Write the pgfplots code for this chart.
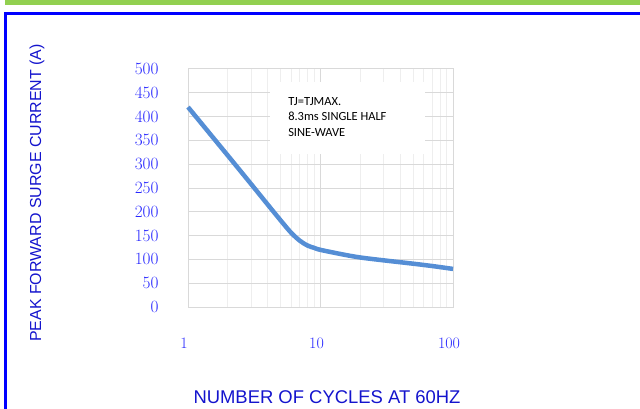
\documentclass[border=0pt]{standalone}
\usepackage{pgfplots}
\pgfplotsset{compat=1.18}
\usepackage{fontspec}
\newfontfamily\arialf{Liberation Sans}
\newfontfamily\calib{Carlito}
\definecolor{framegreen}{RGB}{146,208,80}
\definecolor{frameblue}{RGB}{0,0,255}
\definecolor{tickblue}{RGB}{40,40,255}
\definecolor{labblue}{RGB}{20,20,205}
\definecolor{curve}{RGB}{85,142,213}
\definecolor{majgrid}{RGB}{217,217,217}
\definecolor{mingrid}{RGB}{238,238,238}
\begin{document}
\begin{tikzpicture}[x=1bp,y=1bp]
\useasboundingbox (0,0) rectangle (640,408);
% frame
\fill[framegreen] (5,403) rectangle (640,408);
\draw[frameblue, line width=3bp] (5.5,-2) -- (5.5,394.5) -- (642,394.5);
\begin{axis}[
  at={(188bp,101bp)}, anchor=south west,
  scale only axis, width=265bp, height=238bp,
  xmode=log, xmin=1, xmax=100, ymin=0, ymax=500,
  xtick={1,10,100}, xticklabels={1,10,100},
  ytick={0,50,...,500},
  minor xtick={2,3,4,5,6,7,8,9,20,30,40,50,60,70,80,90},
  major tick length=0, minor tick length=0,
  xmajorgrids, xminorgrids, ymajorgrids,
  major grid style={draw=majgrid, line width=1bp},
  minor grid style={draw=mingrid, line width=1bp},
  axis line style={draw=majgrid, line width=1bp},
  tick label style={font=\fontsize{16}{19}\selectfont, text=tickblue},
  yticklabel style={xshift=-26bp},
  xticklabel style={yshift=-27bp, xshift=-4bp},
  log ticks with fixed point,
  clip=false,
]
\fill[white] (axis cs:4.16,472) rectangle (axis cs:61.5,321);
\node[anchor=north west, align=left, font=\calib\fontsize{12.5}{15.5}\selectfont, inner sep=0pt] at (axis cs:5.69,441) {TJ=TJMAX.\\8.3ms SINGLE HALF\\SINE-WAVE};
\addplot[curve, line width=4.5bp, smooth, tension=0.5] coordinates {
(1,420) (2,318) (3,258) (4,215) (5,182) (6,156) (7,139) (8,129) (9,124) (10,120)
(15,110) (20,104) (30,98) (50,91) (70,86) (100,80)};
\end{axis}
\node[font=\arialf\fontsize{18.5}{21}\selectfont, text=labblue, inner sep=0pt] at (327,11) {NUMBER OF CYCLES AT 60HZ};
\node[font=\arialf\fontsize{16}{19}\selectfont, text=labblue, rotate=90] at (37,215) {PEAK FORWARD SURGE CURRENT (A)};
\end{tikzpicture}
\end{document}
